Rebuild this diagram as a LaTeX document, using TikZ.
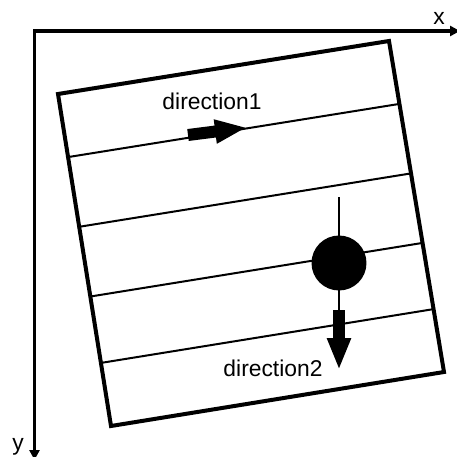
\documentclass[tikz,border=0pt]{standalone}
\usepackage{fontspec}
\setmainfont{Liberation Sans}
\usetikzlibrary{arrows.meta,calc}
\begin{document}
\begin{tikzpicture}[
	x=0.02cm, y=-0.02cm,
	axis/.style={draw, line width=0.075cm, line join=miter,
		{Triangle[length=0.2cm,width=0.2cm]}-{Triangle[length=0.2cm,width=0.2cm]}},
	plate/.style={draw, line width=0.08cm, line join=miter},
	strip/.style={draw, line width=0.04cm},
	bigarrow/.style={draw, line width=0.24cm, -{Triangle[length=0.64cm,width=0.44cm]}},
	ball/.style={circle, fill=black, minimum size=1.1cm, inner sep=0pt},
	lbl/.style={font=\fontsize{13}{15}\selectfont, inner sep=0pt},
]
\useasboundingbox (0,0) rectangle (457,457);
% axes
\coordinate (o) at (34.5,31);
\coordinate (xend) at (460,31);
\coordinate (yend) at (34.5,460);
\draw[axis] (xend) -- (o) -- (yend);
\node[lbl] (xlabel) at (439,18) {x};
\node[lbl] (ylabel) at (18,447) {y};
% plate and strips
\coordinate (a) at (58,94);
\coordinate (b) at (389,41);
\coordinate (c) at (444,372);
\coordinate (d) at (111,426);
\draw[plate] (a) -- (b) -- (c) -- (d) -- cycle;
\foreach \k/\n in {0.19/1,0.40/2,0.61/3,0.81/4} {
	\coordinate (l\n) at ($(a)!\k!(d)$);
	\coordinate (r\n) at ($(b)!\k!(c)$);
	\draw[strip] (l\n) -- (r\n);
}
% direction 1
\coordinate (p1) at (188,135);
\coordinate (q1) at (247,127.5);
\draw[bigarrow] (p1) -- (q1);
\node[lbl] (dir1) at (212,101) {direction1};
% direction 2
\coordinate (stem) at (339,197);
\coordinate (p2) at (339,310);
\coordinate (q2) at (339,370);
\draw[strip] (stem) -- (p2);
\node[ball] (ball) at (339,263) {};
\draw[bigarrow] (p2) -- (q2);
\node[lbl] (dir2) at (273,368.5) {direction2};
\end{tikzpicture}
\end{document}
